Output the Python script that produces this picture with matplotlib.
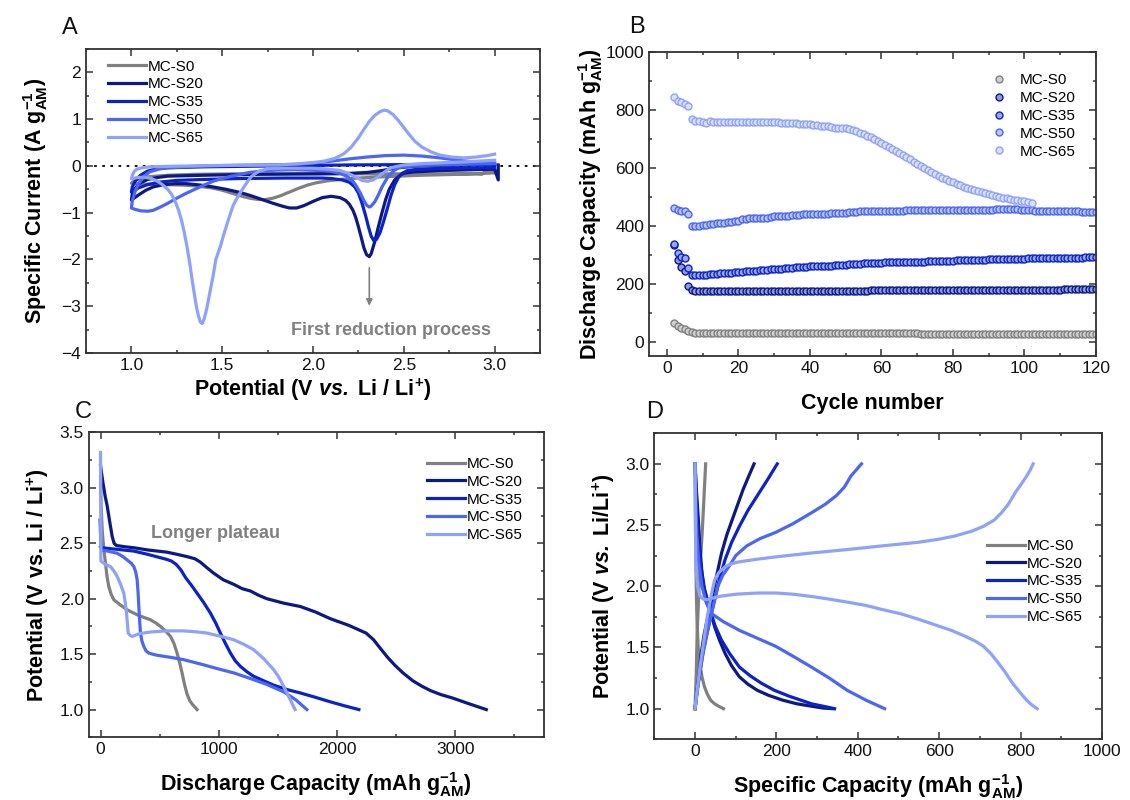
"""Four-panel electrochemistry figure: CV, cycling, first discharge, charge/discharge."""

import numpy as np
import matplotlib
matplotlib.use("Agg")
import matplotlib.pyplot as plt
from matplotlib.ticker import MultipleLocator

plt.rcParams["font.family"] = ["Liberation Sans", "DejaVu Sans"]
plt.rcParams["mathtext.fontset"] = "custom"
plt.rcParams["mathtext.rm"] = "Liberation Sans"
plt.rcParams["mathtext.it"] = "Liberation Sans:italic"
plt.rcParams["mathtext.bf"] = "Liberation Sans:bold"
plt.rcParams["mathtext.bfit"] = "Liberation Sans:bold:italic"

SAMPLES = ["MC-S0", "MC-S20", "MC-S35", "MC-S50", "MC-S65"]
COLORS = {"MC-S0": "#808080", "MC-S20": "#0c1884", "MC-S35": "#0b22c8",
          "MC-S50": "#4b66f3", "MC-S65": "#8ea2fa"}
EDGE_LIGHT = {"MC-S0": "#d0d0d0", "MC-S20": "#8f9ae0", "MC-S35": "#9aa8f0",
              "MC-S50": "#b8c4fb", "MC-S65": "#dbe2ff"}

# --- A: cyclic voltammetry loops (potential V, current A/g) ---
cv_s0 = [(3.0, -0.15), (2.8, -0.18), (2.6, -0.2), (2.4, -0.23), (2.25, -0.26),
         (2.15, -0.29), (2.08, -0.32), (2.02, -0.36), (1.97, -0.41), (1.92, -0.48),
         (1.87, -0.56), (1.82, -0.64), (1.78, -0.69), (1.74, -0.72), (1.7, -0.72),
         (1.65, -0.69), (1.6, -0.64), (1.55, -0.58), (1.5, -0.52), (1.44, -0.47),
         (1.36, -0.43), (1.28, -0.41), (1.18, -0.40), (1.08, -0.39), (1.0, -0.37),
         (1.02, -0.31), (1.05, -0.27), (1.1, -0.23), (1.2, -0.2), (1.35, -0.18),
         (1.6, -0.17), (2.0, -0.17), (2.4, -0.17), (2.9, -0.17), (2.93, -0.18),
         (2.95, -0.12), (3.0, -0.12)]
cv_s20 = [(3.02, 0.02), (3.02, -0.3), (3.0, -0.07), (2.9, -0.08), (2.7, -0.1),
          (2.55, -0.13), (2.5, -0.16), (2.48, -0.2), (2.45, -0.3), (2.42, -0.5),
          (2.4, -0.72), (2.38, -1.0), (2.36, -1.3), (2.34, -1.62), (2.32, -1.88),
          (2.31, -1.94), (2.295, -1.9), (2.28, -1.75), (2.265, -1.52), (2.25, -1.3),
          (2.235, -1.1), (2.22, -0.95), (2.2, -0.82), (2.18, -0.74), (2.15, -0.68),
          (2.1, -0.65), (2.05, -0.68), (2.0, -0.76), (1.95, -0.85), (1.91, -0.9),
          (1.87, -0.9), (1.83, -0.86), (1.78, -0.8), (1.72, -0.72), (1.66, -0.64),
          (1.6, -0.57), (1.52, -0.5), (1.45, -0.45), (1.38, -0.41), (1.3, -0.38),
          (1.24, -0.38), (1.18, -0.4), (1.12, -0.45), (1.08, -0.52), (1.04, -0.62),
          (1.0, -0.73), (1.005, -0.6), (1.02, -0.48), (1.05, -0.36), (1.09, -0.29),
          (1.14, -0.25), (1.2, -0.22), (1.4, -0.2), (1.7, -0.18), (2.0, -0.17),
          (2.2, -0.16), (2.3, -0.14), (2.38, -0.1), (2.45, -0.05), (2.55, -0.01),
          (2.7, 0.01), (3.0, 0.02)]
cv_s35 = [(3.0, -0.04), (2.8, -0.05), (2.65, -0.06), (2.56, -0.08), (2.52, -0.1),
          (2.49, -0.16), (2.47, -0.25), (2.45, -0.4), (2.43, -0.62), (2.41, -0.9),
          (2.39, -1.17), (2.37, -1.42), (2.35, -1.57), (2.335, -1.6), (2.32, -1.5),
          (2.305, -1.3), (2.29, -1.07), (2.27, -0.8), (2.25, -0.58), (2.23, -0.45),
          (2.2, -0.35), (2.16, -0.3), (2.1, -0.27), (2.05, -0.26), (1.85, -0.26),
          (1.6, -0.27), (1.4, -0.29), (1.25, -0.31), (1.15, -0.35), (1.09, -0.4),
          (1.04, -0.47), (1.0, -0.56), (1.005, -0.45), (1.02, -0.33), (1.05, -0.2),
          (1.09, -0.11), (1.14, -0.06), (1.2, -0.04), (1.4, -0.02), (1.8, 0.0),
          (2.2, 0.02), (2.6, 0.03), (3.0, 0.03)]
cv_s50 = [(3.0, 0.05), (2.8, 0.03), (2.6, 0.01), (2.5, -0.02), (2.47, -0.04),
          (2.44, -0.12), (2.41, -0.25), (2.38, -0.45), (2.36, -0.62), (2.34, -0.77),
          (2.32, -0.86), (2.31, -0.88), (2.295, -0.84), (2.28, -0.74), (2.26, -0.58),
          (2.24, -0.44), (2.22, -0.33), (2.19, -0.23), (2.15, -0.16), (2.1, -0.12),
          (2.05, -0.1), (1.9, -0.08), (1.8, -0.09), (1.72, -0.11), (1.65, -0.14),
          (1.6, -0.18), (1.55, -0.22), (1.5, -0.27), (1.45, -0.33), (1.4, -0.41),
          (1.35, -0.5), (1.3, -0.59), (1.25, -0.69), (1.2, -0.8), (1.16, -0.88),
          (1.12, -0.95), (1.09, -0.97), (1.05, -0.96), (1.02, -0.93), (1.0, -0.9),
          (1.005, -0.75), (1.02, -0.55), (1.04, -0.38), (1.07, -0.22), (1.1, -0.13),
          (1.15, -0.07), (1.2, -0.04), (1.4, 0.0), (1.7, 0.02), (1.9, 0.03),
          (2.0, 0.06), (2.1, 0.1), (2.2, 0.15), (2.3, 0.19), (2.4, 0.22), (2.5, 0.23),
          (2.6, 0.21), (2.7, 0.17), (2.8, 0.12), (2.9, 0.08), (3.0, 0.06)]
cv_s65 = [(3.0, 0.12), (2.8, 0.08), (2.6, 0.05), (2.5, 0.02), (2.45, -0.02),
          (2.42, -0.06), (2.39, -0.14), (2.36, -0.23), (2.33, -0.3), (2.3, -0.33),
          (2.27, -0.31), (2.24, -0.25), (2.2, -0.17), (2.15, -0.1), (2.08, -0.07),
          (2.0, -0.05), (1.85, -0.05), (1.75, -0.06), (1.7, -0.12), (1.68, -0.17),
          (1.66, -0.23), (1.64, -0.33), (1.62, -0.45), (1.6, -0.57), (1.58, -0.7),
          (1.56, -0.85), (1.547, -1.0), (1.53, -1.2), (1.51, -1.45), (1.49, -1.72),
          (1.465, -2.0), (1.45, -2.35), (1.43, -2.75), (1.415, -3.05), (1.4, -3.28),
          (1.39, -3.37), (1.38, -3.34), (1.37, -3.22), (1.36, -3.05), (1.35, -2.82),
          (1.335, -2.45), (1.32, -2.05), (1.305, -1.7), (1.29, -1.4), (1.275, -1.15),
          (1.26, -0.95), (1.24, -0.75), (1.22, -0.6), (1.2, -0.5), (1.17, -0.4),
          (1.14, -0.32), (1.11, -0.27), (1.07, -0.24), (1.03, -0.25), (1.0, -0.28),
          (1.005, -0.2), (1.015, -0.12), (1.03, -0.07), (1.06, -0.04), (1.1, -0.02),
          (1.2, -0.01), (1.5, 0.01), (1.8, 0.02), (1.9, 0.04), (2.0, 0.07),
          (2.06, 0.1), (2.12, 0.16), (2.17, 0.26), (2.21, 0.4), (2.25, 0.6),
          (2.28, 0.78), (2.31, 0.95), (2.34, 1.08), (2.37, 1.16), (2.39, 1.19),
          (2.41, 1.18), (2.44, 1.1), (2.47, 0.97), (2.5, 0.82), (2.53, 0.67),
          (2.56, 0.53), (2.6, 0.4), (2.65, 0.3), (2.7, 0.23), (2.76, 0.19),
          (2.83, 0.17), (2.9, 0.19), (2.96, 0.22), (3.0, 0.25)]
cv_loops = {"MC-S0": cv_s0, "MC-S20": cv_s20, "MC-S35": cv_s35,
            "MC-S50": cv_s50, "MC-S65": cv_s65}

# --- B: discharge capacity per cycle (mAh/g), cycles start at 2 ---
cyc_s0 = [65, 52, 47, 43, 37, 32, 30, 29, 29,
          29, 29, 29, 29, 29, 29, 29, 29, 29, 29,
          29, 29, 29, 29, 29, 29, 29, 29, 29, 29,
          28, 28, 28, 28, 28, 28, 28, 28, 28, 28,
          28, 28, 28, 28, 28, 28, 28, 28, 28, 28,
          28, 28, 28, 28, 28, 28, 28, 28, 28, 28,
          28, 28, 28, 28, 28, 28, 28, 28, 28, 28,
          27, 27, 27, 27, 27, 27, 27, 27, 27, 27,
          27, 27, 27, 27, 27, 27, 27, 27, 27, 27,
          27, 27, 27, 27, 27, 27, 27, 27, 27, 27,
          26, 26, 26, 26, 26, 26, 26, 26, 26, 26,
          25, 25, 25, 25, 25, 25, 25, 25, 25, 25]
cyc_s20 = [335, 280, 258, 245, 192, 178, 176, 175, 175,
           174, 174, 174, 174, 174, 174, 174, 174, 174, 174,
           174, 174, 174, 174, 174, 174, 174, 174, 174, 174,
           175, 175, 175, 175, 175, 175, 175, 175, 175, 175,
           175, 175, 175, 175, 176, 176, 176, 176, 176, 176,
           176, 176, 176, 176, 176, 176, 177, 177, 177, 177,
           177, 177, 177, 177, 177, 177, 177, 177, 177, 177,
           178, 178, 178, 178, 178, 178, 178, 178, 178, 178,
           178, 178, 178, 178, 178, 178, 178, 178, 178, 178,
           179, 179, 179, 179, 179, 179, 179, 179, 179, 179,
           179, 179, 179, 179, 179, 179, 179, 179, 179, 179,
           180, 180, 180, 180, 180, 180, 180, 180, 180, 180]
cyc_s35 = [338, 305, 292, 287, 255, 230, 229, 229, 230,
           231, 232, 233, 234, 235, 236, 237, 238, 239, 240,
           241, 242, 243, 244, 245, 246, 247, 248, 249, 250,
           251, 252, 253, 254, 255, 256, 257, 258, 259, 260,
           260, 261, 261, 262, 262, 262, 263, 263, 264, 265,
           267, 268, 269, 269, 270, 270, 271, 271, 272, 272,
           273, 273, 273, 274, 274, 274, 275, 275, 275, 276,
           276, 276, 277, 277, 277, 278, 278, 278, 279, 279,
           280, 280, 280, 281, 281, 282, 282, 283, 283, 284,
           284, 284, 285, 285, 285, 285, 286, 286, 286, 286,
           287, 287, 287, 287, 288, 288, 288, 288, 289, 289,
           289, 289, 290, 290, 290, 290, 291, 291, 291, 291]
cyc_s50 = [462, 455, 452, 452, 441, 398, 398, 400, 401,
           403, 405, 406, 408, 409, 410, 412, 413, 415, 418,
           422, 424, 425, 425, 426, 426, 427, 428, 430, 434,
           434, 434, 435, 435, 436, 437, 438, 439, 439, 440,
           440, 441, 441, 442, 442, 443, 443, 444, 445, 445,
           446, 448, 449, 450, 450, 450, 450, 451, 451, 451,
           452, 452, 452, 452, 452, 452, 453, 453, 453, 453,
           453, 453, 454, 454, 454, 454, 454, 454, 454, 454,
           454, 454, 454, 453, 453, 453, 454, 454, 455, 455,
           456, 458, 458, 458, 458, 459, 459, 457, 455, 454,
           453, 453, 452, 452, 452, 452, 452, 451, 451, 451,
           451, 450, 450, 450, 450, 449, 449, 448, 448, 448]
cyc_s65 = [845, 830, 826, 822, 812, 768, 762, 760, 757,
           755, 760, 759, 758, 758, 758, 758, 757, 757, 757,
           757, 757, 758, 758, 758, 758, 758, 758, 758, 757,
           757, 756, 756, 755, 755, 754, 753, 752, 751, 750,
           749, 748, 746, 745, 743, 741, 739, 738, 738, 737,
           735, 731, 726, 721, 716, 711, 705, 699, 693, 687,
           680, 673, 666, 658, 651, 644, 636, 629, 621, 613,
           606, 599, 592, 585, 578, 572, 566, 560, 555, 550,
           545, 540, 535, 531, 527, 523, 519, 515, 512, 509,
           506, 503, 500, 497, 494, 492, 490, 488, 486, 484,
           481, 478]
cycling = {"MC-S0": cyc_s0, "MC-S20": cyc_s20, "MC-S35": cyc_s35,
           "MC-S50": cyc_s50, "MC-S65": cyc_s65}

# --- C: first discharge (capacity mAh/g, potential V) ---
dis_s0 = [(0, 3.1), (3, 2.95), (5, 2.85), (10, 2.72), (14, 2.62), (25, 2.48),
          (42, 2.32), (55, 2.2), (70, 2.11), (90, 2.04), (113, 1.99), (160, 1.95),
          (225, 1.90), (320, 1.85), (423, 1.81), (470, 1.78), (507, 1.75),
          (550, 1.71), (592, 1.66), (620, 1.6), (648, 1.51), (670, 1.42),
          (690, 1.33), (710, 1.23), (732, 1.14), (755, 1.08), (775, 1.05),
          (800, 1.02), (817, 1.0)]
dis_s20 = [(0, 3.2), (20, 3.05), (40, 2.92), (56, 2.84), (80, 2.68), (99, 2.56),
           (115, 2.5), (135, 2.48), (200, 2.47), (282, 2.46), (400, 2.44),
           (563, 2.42), (650, 2.40), (732, 2.38), (800, 2.36), (845, 2.33),
           (900, 2.28), (958, 2.23), (1040, 2.17), (1127, 2.13), (1200, 2.09),
           (1268, 2.07), (1340, 2.03), (1408, 2.0), (1550, 1.96), (1690, 1.93),
           (1820, 1.88), (1944, 1.82), (2100, 1.76), (2247, 1.69), (2310, 1.63),
           (2369, 1.55), (2430, 1.47), (2490, 1.40), (2560, 1.33), (2642, 1.26),
           (2720, 1.21), (2794, 1.17), (2880, 1.135), (2976, 1.105), (3097, 1.06),
           (3180, 1.03), (3264, 1.0)]
dis_s35 = [(0, 2.47), (14, 2.46), (100, 2.45), (282, 2.43), (400, 2.40),
           (507, 2.37), (560, 2.355), (600, 2.34), (640, 2.31), (680, 2.26),
           (720, 2.19), (770, 2.12), (817, 2.05), (870, 1.97), (930, 1.87),
           (975, 1.78), (1014, 1.69), (1055, 1.6), (1099, 1.51), (1140, 1.44),
           (1183, 1.39), (1240, 1.34), (1296, 1.30), (1380, 1.26), (1465, 1.22),
           (1580, 1.18), (1690, 1.15), (1820, 1.11), (1944, 1.07), (2060, 1.035),
           (2186, 1.0)]
dis_s50 = [(-5, 2.71), (3, 2.5), (8, 2.44), (60, 2.43), (141, 2.41), (190, 2.38),
           (225, 2.35), (260, 2.32), (282, 2.29), (298, 2.24), (310, 2.17),
           (318, 2.05), (324, 1.93), (331, 1.8), (338, 1.69), (350, 1.62),
           (366, 1.57), (385, 1.53), (408, 1.51), (440, 1.50), (479, 1.49),
           (600, 1.47), (704, 1.45), (850, 1.41), (986, 1.37), (1130, 1.33),
           (1268, 1.28), (1400, 1.23), (1549, 1.16), (1650, 1.09), (1746, 1.0)]
dis_s65 = [(0, 3.32), (2, 2.9), (3, 2.34), (40, 2.31), (85, 2.29), (120, 2.24),
           (141, 2.2), (170, 2.13), (197, 2.05), (210, 1.96), (220, 1.87),
           (228, 1.77), (234, 1.69), (250, 1.67), (268, 1.66), (330, 1.685),
           (423, 1.70), (560, 1.71), (704, 1.71), (820, 1.70), (901, 1.69),
           (1020, 1.66), (1127, 1.63), (1210, 1.59), (1296, 1.54), (1380, 1.46),
           (1465, 1.36), (1510, 1.29), (1549, 1.21), (1600, 1.1), (1646, 1.0)]
first_discharge = {"MC-S0": dis_s0, "MC-S20": dis_s20, "MC-S35": dis_s35,
                   "MC-S50": dis_s50, "MC-S65": dis_s65}

# --- D: charge (1.0 -> 3.0 V) and discharge (3.0 -> 1.0 V) curves ---
chg_s0 = [(0, 1.0), (3, 1.3), (5, 1.6), (8, 1.85), (10, 2.0), (13, 2.2),
          (15, 2.3), (18, 2.47), (20, 2.6), (23, 2.8), (26, 3.0)]
chg_s20 = [(0, 1.0), (5, 1.15), (10, 1.3), (15, 1.45), (22, 1.6), (30, 1.73),
           (39, 1.86), (50, 2.04), (65, 2.27), (78, 2.42), (92, 2.55), (105, 2.67),
           (118, 2.79), (132, 2.9), (145, 3.0)]
chg_s35 = [(0, 1.0), (5, 1.15), (12, 1.3), (20, 1.47), (28, 1.6), (38, 1.75),
           (48, 1.89), (60, 2.06), (74, 2.22), (90, 2.36), (109, 2.49), (130, 2.62),
           (153, 2.74), (178, 2.87), (202, 3.0)]
chg_s50 = [(0, 1.0), (5, 1.13), (12, 1.3), (20, 1.46), (30, 1.62), (42, 1.8),
           (56, 2.0), (68, 2.09), (83, 2.16), (100, 2.25), (127, 2.33), (160, 2.39),
           (198, 2.44), (240, 2.51), (286, 2.6), (320, 2.67), (347, 2.74),
           (367, 2.81), (383, 2.9), (396, 2.95), (409, 3.0)]
chg_s65 = [(0, 1.0), (5, 1.15), (12, 1.34), (20, 1.52), (30, 1.75), (40, 1.93),
           (48, 2.05), (58, 2.11), (74, 2.16), (90, 2.185), (109, 2.2), (150, 2.22),
           (198, 2.24), (280, 2.27), (374, 2.3), (460, 2.33), (550, 2.36),
           (600, 2.385), (638, 2.41), (680, 2.45), (709, 2.49), (735, 2.54),
           (753, 2.6), (770, 2.67), (788, 2.77), (803, 2.84), (815, 2.9),
           (824, 2.95), (831, 3.0)]
dchg_s0 = [(0, 3.0), (1, 2.5), (2, 2.2), (3.5, 1.89), (5, 1.7), (8, 1.48),
           (12, 1.36), (17, 1.26), (23, 1.18), (30, 1.12), (38, 1.07), (48, 1.04),
           (58, 1.02), (70, 1.0)]
dchg_s20 = [(0, 3.0), (3, 2.8), (8, 2.55), (12, 2.3), (17, 2.11), (23, 1.98),
            (30, 1.89), (39, 1.78), (48, 1.67), (60, 1.56), (74, 1.45), (90, 1.35),
            (109, 1.26), (130, 1.2), (153, 1.15), (180, 1.11), (215, 1.07),
            (250, 1.04), (286, 1.02), (315, 1.005), (339, 1.0)]
dchg_s35 = [(0, 3.0), (3, 2.75), (8, 2.44), (14, 2.18), (21, 2.0), (30, 1.88),
            (39, 1.78), (50, 1.67), (65, 1.56), (85, 1.45), (109, 1.34), (135, 1.27),
            (162, 1.21), (195, 1.15), (233, 1.10), (260, 1.07), (286, 1.04),
            (315, 1.02), (343, 1.0)]
dchg_s50 = [(0, 3.0), (2, 2.7), (4, 2.44), (9, 2.2), (17, 2.0), (27, 1.87),
            (39, 1.78), (70, 1.71), (109, 1.64), (150, 1.58), (198, 1.51),
            (240, 1.43), (286, 1.34), (330, 1.25), (374, 1.15), (420, 1.07),
            (466, 1.0)]
dchg_s65 = [(0, 3.0), (1, 2.5), (2, 2.16), (6, 2.0), (12, 1.92), (20, 1.895),
            (30, 1.89), (45, 1.905), (65, 1.92), (100, 1.935), (153, 1.945),
            (200, 1.945), (242, 1.935), (290, 1.915), (330, 1.895), (375, 1.87),
            (418, 1.845), (460, 1.81), (506, 1.775), (550, 1.73), (594, 1.68),
            (630, 1.64), (665, 1.59), (690, 1.55), (709, 1.51), (727, 1.45),
            (744, 1.38), (762, 1.3), (780, 1.21), (797, 1.14), (815, 1.07),
            (828, 1.03), (841, 1.0)]
charge = {"MC-S0": chg_s0, "MC-S20": chg_s20, "MC-S35": chg_s35,
          "MC-S50": chg_s50, "MC-S65": chg_s65}
discharge = {"MC-S0": dchg_s0, "MC-S20": dchg_s20, "MC-S35": dchg_s35,
             "MC-S50": dchg_s50, "MC-S65": dchg_s65}

INK = "#333333"
LW = 2.3
LABEL_FS = 15.5


def xy(points):
    arr = np.array(points, dtype=float)
    return arr[:, 0], arr[:, 1]


def style_axes(ax, xmaj, xmin, ymaj, ymin):
    ax.xaxis.set_major_locator(MultipleLocator(xmaj))
    ax.xaxis.set_minor_locator(MultipleLocator(xmin))
    ax.yaxis.set_major_locator(MultipleLocator(ymaj))
    ax.yaxis.set_minor_locator(MultipleLocator(ymin))
    ax.tick_params(which="both", direction="in", top=True, right=True,
                   colors=INK, labelcolor="#111111", labelsize=12.5, width=1.1)
    ax.tick_params(which="major", length=5)
    ax.tick_params(which="minor", length=2.5)
    for s in ax.spines.values():
        s.set_color(INK)
        s.set_linewidth(1.3)


def line_legend(ax, anchor):
    ax.legend(loc="upper left", bbox_to_anchor=anchor, frameon=False,
              fontsize=11, handlelength=2.5, handletextpad=0.1,
              labelspacing=0.25, borderpad=0, borderaxespad=0)


def panel_a(ax):
    ax.axhline(0, color="black", ls=(0, (1.5, 3)), lw=1.3, zorder=1)
    for name in SAMPLES:
        ax.plot(*xy(cv_loops[name]), color=COLORS[name], lw=LW, label=name)
    ax.annotate("", xy=(2.31, -3.05), xytext=(2.31, -2.12),
                arrowprops=dict(arrowstyle="-|>", color="#808080", lw=1.2,
                                mutation_scale=9))
    ax.text(2.43, -3.52, "First reduction process", color="#808080",
            fontsize=13, fontweight="bold", ha="center", va="center")
    ax.set_xlim(0.75, 3.25)
    ax.set_ylim(-4, 2.5)
    style_axes(ax, 0.5, 0.25, 1, 0.5)
    ax.set_xlabel(r"Potential (V $\mathbfit{vs.}$ Li / Li$^{\mathbf{+}}$)",
                  fontsize=LABEL_FS, fontweight="bold", labelpad=3)
    ax.set_ylabel(r"Specific Current (A g$_{\mathbf{AM}}^{\mathbf{-1}}$)",
                  fontsize=LABEL_FS, fontweight="bold", labelpad=8)
    line_legend(ax, (0.048, 0.965))


def panel_b(ax):
    for name in SAMPLES:
        vals = cycling[name]
        ax.plot(np.arange(2, 2 + len(vals)), vals, ls="none", marker="o",
                ms=5, mfc=EDGE_LIGHT[name], mec=COLORS[name], mew=1.0,
                label=name)
    ax.set_xlim(-5, 120)
    ax.set_ylim(-50, 1000)
    style_axes(ax, 20, 10, 200, 100)
    ax.set_xlabel("Cycle number", fontsize=LABEL_FS, fontweight="bold",
                  labelpad=12)
    ax.set_ylabel(r"Discharge Capacity (mAh g$_{\mathbf{AM}}^{\mathbf{-1}}$)",
                  fontsize=LABEL_FS, fontweight="bold", labelpad=0)
    ax.legend(loc="upper left", bbox_to_anchor=(0.767, 0.93), frameon=False,
              fontsize=11, handlelength=1.0, handletextpad=0.8,
              labelspacing=0.25, borderpad=0, borderaxespad=0)


def panel_c(ax):
    for name in SAMPLES:
        ax.plot(*xy(first_discharge[name]), color=COLORS[name], lw=LW, label=name)
    ax.text(975, 2.59, "Longer plateau", color="#808080", fontsize=13,
            fontweight="bold", ha="center", va="center")
    ax.set_xlim(-100, 3750)
    ax.set_ylim(0.75, 3.5)
    style_axes(ax, 1000, 500, 0.5, 0.25)
    ax.set_xlabel(r"Discharge Capacity (mAh g$_{\mathbf{AM}}^{\mathbf{-1}}$)",
                  fontsize=LABEL_FS, fontweight="bold", labelpad=9)
    ax.set_ylabel(r"Potential (V vs. Li / Li$^{\mathbf{+}}$)",
                  fontsize=LABEL_FS, fontweight="bold", labelpad=6)
    line_legend(ax, (0.744, 0.92))


def panel_d(ax):
    for name in SAMPLES:
        ax.plot(*xy(charge[name]), color=COLORS[name], lw=LW, label=name)
        ax.plot(*xy(discharge[name]), color=COLORS[name], lw=LW)
    ax.set_xlim(-100, 1000)
    ax.set_ylim(0.75, 3.25)
    style_axes(ax, 200, 100, 0.5, 0.25)
    ax.set_xlabel(r"Specific Capacity (mAh g$_{\mathbf{AM}}^{\mathbf{-1}}$)",
                  fontsize=LABEL_FS, fontweight="bold", labelpad=9)
    ax.set_ylabel(r"Potential (V $\mathbfit{vs.}$ Li/Li$^{\mathbf{+}}$)",
                  fontsize=LABEL_FS, fontweight="bold", labelpad=6)
    line_legend(ax, (0.743, 0.655))


def main():
    fig = plt.figure(figsize=(11.3, 8.0), dpi=100)
    ax_a = fig.add_axes([0.0761, 0.5588, 0.4018, 0.38])
    ax_b = fig.add_axes([0.5743, 0.555, 0.3956, 0.38])
    ax_c = fig.add_axes([0.0785, 0.0784, 0.4027, 0.381])
    ax_d = fig.add_axes([0.5791, 0.0759, 0.396, 0.3825])
    panel_a(ax_a)
    panel_b(ax_b)
    panel_c(ax_c)
    panel_d(ax_d)
    for letter, x, y in (("A", 70, 28), ("B", 637, 27), ("C", 83, 412), ("D", 655, 412)):
        fig.text(x / 1130, 1 - y / 800, letter, fontsize=17, ha="center",
                 va="center", color="#111111")
    fig.savefig("out.png", dpi=100)


if __name__ == "__main__":
    main()
